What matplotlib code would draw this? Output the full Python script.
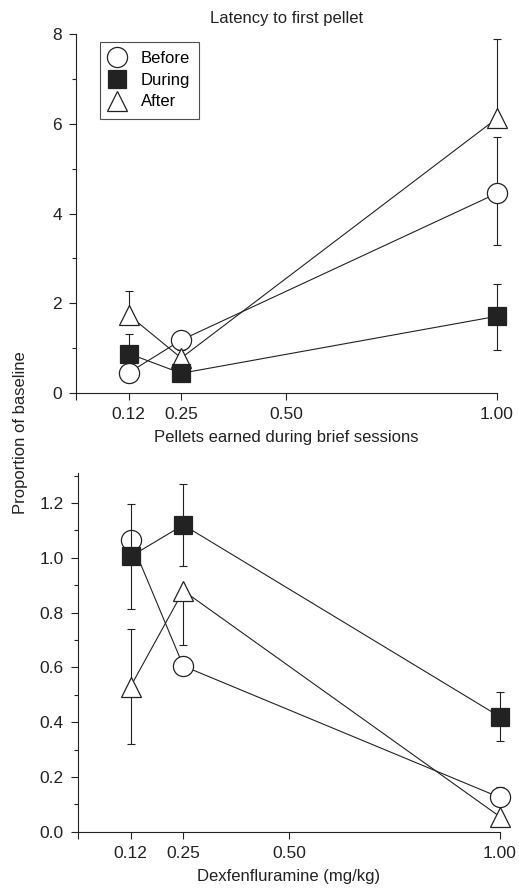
import numpy as np
import matplotlib.pyplot as plt
from matplotlib.ticker import MultipleLocator

plt.rcParams['font.family'] = ['Liberation Sans', 'DejaVu Sans']

doses = [0.125, 0.25, 1.00]
tick_pos = [0, 0.125, 0.25, 0.50, 1.00]
tick_lab = ['', '0.12', '0.25', '0.50', '1.00']

# top panel: latency to first pellet
lat_before = [0.45, 1.18, 4.45]
lat_before_lo = [0, 0, 1.15]
lat_before_hi = [0, 0.18, 1.25]
lat_during = [0.88, 0.44, 1.71]
lat_during_lo = [0, 0, 0.75]
lat_during_hi = [0.43, 0, 0.73]
lat_after = [1.74, 0.78, 6.12]
lat_after_lo = [0, 0, 0]
lat_after_hi = [0.53, 0.18, 1.77]

# bottom panel: pellets earned
pel_before = [1.065, 0.605, 0.125]
pel_before_lo = [0, 0, 0]
pel_before_hi = [0, 0, 0.04]
pel_during = [1.005, 1.12, 0.42]
pel_during_err = [0.19, 0.15, 0.09]
pel_after = [0.53, 0.88, 0.055]
pel_after_err = [0.21, 0.20, 0]

fig = plt.figure(figsize=(5.19, 8.88), dpi=100)
ax1 = fig.add_axes([0.1464, 0.5574, 0.811, 0.4043])
ax2 = fig.add_axes([0.150, 0.0634, 0.813, 0.404])

def series(ax, y, lo, hi, marker, face, ms, label, z):
    ax.errorbar(doses, y, yerr=[lo, hi], fmt='none', ecolor='#222222',
                elinewidth=0.8, capsize=3, capthick=0.8, zorder=z, clip_on=False)
    ax.plot(doses, y, color='#222222', lw=0.8, marker=marker, ms=ms,
            mfc=face, mec='#222222', mew=0.9, label=label, zorder=z + 1, clip_on=False)

series(ax1, lat_before, lat_before_lo, lat_before_hi, 'o', 'white', 14.5, 'Before', 2)
series(ax1, lat_after, lat_after_lo, lat_after_hi, '^', 'white', 14.5, 'After', 4)
series(ax1, lat_during, lat_during_lo, lat_during_hi, 's', '#222222', 12.5, 'During', 6)

series(ax2, pel_before, pel_before_lo, pel_before_hi, 'o', 'white', 14.5, 'Before', 2)
series(ax2, pel_after, [pel_after_err[0], pel_after_err[1], 0],
       [pel_after_err[0], 0, 0], '^', 'white', 14.5, 'After', 4)
series(ax2, pel_during, pel_during_err, pel_during_err, 's', '#222222', 12.5, 'During', 6)

for ax in (ax1, ax2):
    ax.set_xlim(0, 1.0)
    ax.set_xticks(tick_pos)
    ax.set_xticklabels(tick_lab)
    for s in ('top', 'right'):
        ax.spines[s].set_visible(False)
    for s in ('left', 'bottom'):
        ax.spines[s].set_linewidth(0.8)
        ax.spines[s].set_color('#222222')
    ax.tick_params(which='major', direction='out', length=5, width=0.8, pad=5,
                   labelsize=12.5, color='#222222', labelcolor='#222222')
    ax.tick_params(which='minor', direction='out', length=3, width=0.8, color='#222222')

ax1.set_ylim(0, 8)
ax1.set_yticks([0, 2, 4, 6, 8])
ax1.yaxis.set_minor_locator(MultipleLocator(1))
ax1.set_title('Latency to first pellet', fontsize=12, color='#222222', pad=8)
ax1.set_xlabel('Pellets earned during brief sessions', fontsize=12, color='#222222', labelpad=6)

ax2.set_ylim(0, 1.31)
ax2.set_yticks([0, 0.2, 0.4, 0.6, 0.8, 1.0, 1.2])
ax2.set_yticklabels(['0.0', '0.2', '0.4', '0.6', '0.8', '1.0', '1.2'])
ax2.yaxis.set_minor_locator(MultipleLocator(0.1))
ax2.set_xlabel('Dexfenfluramine (mg/kg)', fontsize=12, color='#222222', labelpad=6)

h, l = ax1.get_legend_handles_labels()
order = [l.index('Before'), l.index('During'), l.index('After')]
leg = ax1.legend([h[i] for i in order], [l[i] for i in order], loc='upper left',
                 bbox_to_anchor=(0.057, 0.978), fontsize=12, frameon=True,
                 fancybox=False, handlelength=1.0, handletextpad=0.9,
                 borderpad=0.55, labelspacing=0.4, markerscale=1.0, borderaxespad=0)
leg.get_frame().set_edgecolor('#222222')
leg.get_frame().set_linewidth(0.8)
for line in leg.get_lines():
    line.set_linestyle('none')

fig.text(0.039, 0.513, 'Proportion of baseline', rotation=90, va='center', ha='center',
         fontsize=12, color='#222222')

fig.savefig('out.png', dpi=100)
